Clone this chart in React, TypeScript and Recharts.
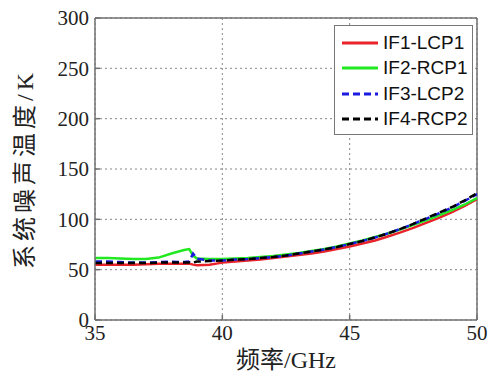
import React from 'react';
import {
  LineChart,
  Line,
  XAxis,
  YAxis,
  CartesianGrid,
  ReferenceLine,
} from 'recharts';

const freq = [
  35, 35.5, 36, 36.5, 37, 37.5, 38, 38.5, 38.7, 38.85, 39, 39.5, 40, 40.5, 41, 41.5, 42,
  42.5, 43, 43.5, 44, 44.5, 45, 45.5, 46, 46.5, 47, 47.5, 48, 48.5, 49, 49.5, 50,
];
const if1Lcp1 = [
  55, 55, 55, 55, 55.5, 56, 56, 56, 56, 55, 54.5, 55, 57, 58, 59, 60, 61.5, 63, 64.5, 66,
  68, 70.5, 73, 76, 79, 83, 87, 91.5, 96.5, 101.5, 107, 113, 120,
];
const if2Rcp1 = [
  61.5, 61.5, 61, 60.5, 60.5, 62, 66, 69.5, 70.5, 64, 61, 60.5, 60.5, 61, 61.5, 62.5,
  63.5, 65, 66.5, 68.5, 70.5, 73, 76, 79, 82.5, 86, 90, 94.5, 99, 104, 109, 114.5, 121,
];
const if3Lcp2 = [
  58, 58, 57.5, 57, 57, 57.5, 58, 57.5, 58, 66, 61, 59, 59, 60, 60.5, 61.5, 62.5, 64,
  66, 68, 70, 72.5, 75.5, 78.5, 82, 86, 90.5, 95.5, 100.5, 106, 111.5, 118, 125,
];
const if4Rcp2 = [
  56.5, 56.5, 56.5, 56.5, 56.5, 57, 57, 57, 57, 57, 58, 58.5, 59, 60, 60.5, 61.5, 62.5,
  64, 66, 68, 70, 72.5, 75.5, 78.5, 82, 86, 90.5, 95.5, 101, 106.5, 112, 118.5, 126,
];
const xTicks = [35, 40, 45, 50];
const yTicks = [0, 50, 100, 150, 200, 250, 300];

const data = freq.map((f, i) => ({
  f,
  a: if1Lcp1[i],
  b: if2Rcp1[i],
  c: if3Lcp2[i],
  d: if4Rcp2[i],
}));

const series = [
  { key: 'a', name: 'IF1-LCP1', color: '#e8242a', dash: undefined },
  { key: 'b', name: 'IF2-RCP1', color: '#22e822', dash: undefined },
  { key: 'c', name: 'IF3-LCP2', color: '#1a1ae0', dash: '7 4' },
  { key: 'd', name: 'IF4-RCP2', color: '#000000', dash: '7 4' },
];

const serif = '"Liberation Serif", "DejaVu Serif", "Noto Sans CJK SC", serif';
const axisColor = '#707070';

const LegendBox = () => (
  <div
    style={{
      position: 'absolute',
      left: 334,
      top: 25,
      width: 130,
      border: '1.5px solid #777',
      background: '#fff',
      padding: '4px 0 2px 7px',
      fontFamily: '"Liberation Sans", Arial, sans-serif',
      fontSize: 19,
      color: '#111',
    }}
  >
    {series.map((s) => (
      <div key={s.key} style={{ display: 'flex', alignItems: 'center', height: 25.5 }}>
        <svg width={36} height={6} style={{ marginRight: 5 }}>
          <line x1={0} y1={3} x2={36} y2={3} stroke={s.color} strokeWidth={3} strokeDasharray={s.dash} />
        </svg>
        <span>{s.name}</span>
      </div>
    ))}
  </div>
);

export default function App() {
  return (
    <div style={{ position: 'absolute', left: 0, top: 0, width: 489, height: 372, background: '#fff' }}>
      <LineChart
        width={489}
        height={372}
        data={data}
        margin={{ top: 18, right: 12, left: 0, bottom: 0 }}
      >
        <CartesianGrid stroke="#888" strokeDasharray="2 3" strokeWidth={1} />
        <XAxis
          dataKey="f"
          type="number"
          domain={[35, 50]}
          ticks={xTicks}
          height={52}
          stroke={axisColor}
          strokeWidth={1.5}
          tickSize={-5}
          tickMargin={10}
          tick={{ fill: '#222', fontFamily: serif, fontSize: 21 }}
          label={{
            value: '频率/GHz',
            position: 'insideBottom',
            offset: 4,
            fill: '#222',
            fontFamily: serif,
            fontSize: 24,
          }}
        />
        <YAxis
          type="number"
          domain={[0, 300]}
          ticks={yTicks}
          width={95}
          stroke={axisColor}
          strokeWidth={1.5}
          tickSize={-5}
          tickMargin={11}
          interval={0}
          tick={{ fill: '#222', fontFamily: serif, fontSize: 21 }}
          label={{
            value: '系统噪声温度/K',
            angle: -90,
            position: 'insideLeft',
            offset: 24,
            fill: '#222',
            fontFamily: serif,
            fontSize: 24,
            letterSpacing: 4,
            style: { textAnchor: 'middle' },
          }}
        />
        <ReferenceLine x={50} stroke={axisColor} strokeWidth={1.5} />
        <ReferenceLine y={300} stroke={axisColor} strokeWidth={1.5} />
        {series.map((s) => (
          <Line
            key={s.key}
            name={s.name}
            dataKey={s.key}
            stroke={s.color}
            strokeWidth={2.5}
            strokeDasharray={s.dash}
            dot={false}
            isAnimationActive={false}
          />
        ))}
      </LineChart>
      <LegendBox />
    </div>
  );
}
